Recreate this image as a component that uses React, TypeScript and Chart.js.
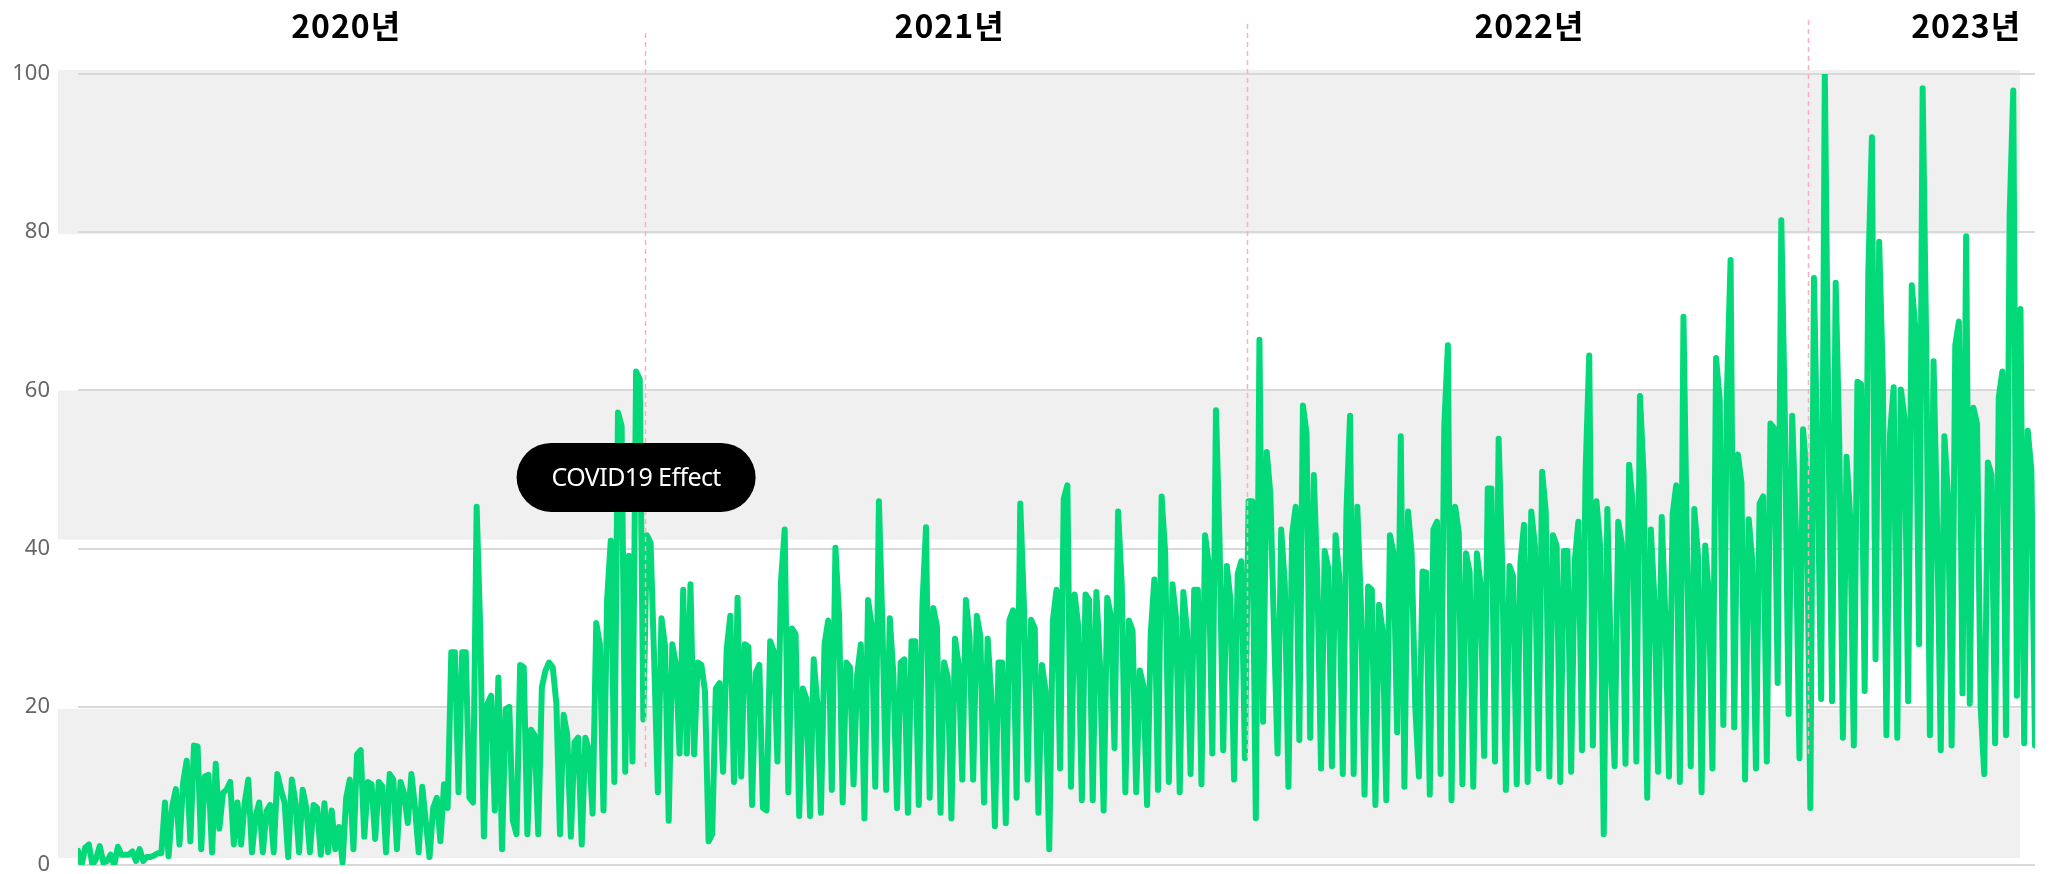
import React, { useEffect, useRef } from 'react';
import { Chart, registerables } from 'chart.js';

Chart.register(...registerables);

// ---- data (weekly rhythm) ----
const values2020 = [
  1.8, 0, 2.2, 2.6, 0, 0.8, 2.4, 0.3, 0.5, 1.3,
  0, 2.3, 1.3, 1.3, 1.3, 1.7, 0.5, 2.0, 0.5, 1,
  1, 1.2, 1.5, 1.5, 7.9, 1.1, 7.4, 9.6, 2.6, 10.4,
  13.2, 3, 15.1, 15, 2, 11.2, 11.4, 1.6, 12.8, 4.6,
  9.1, 9.5, 10.5, 2.6, 7.9, 2.6, 7.9, 10.8, 1.6, 6.2,
  7.9, 1.6, 6.8, 7.6, 1.6, 11.5, 9.5, 7.9, 1.0, 10.8,
  7.9, 1.6, 9.5, 7.2, 1.6, 7.6, 7.2, 1.3, 7.8, 1.6,
  6.9, 2.0, 4.8, 0.3, 8.5, 10.8, 2, 14, 14.5, 3.6,
  10.5, 10.2, 3.3, 10.5, 9.9, 1.6, 11.5, 10.8, 2, 10.5,
  9, 5.3, 11.5, 7.2, 1.6, 9.9, 5.3, 1, 7.2, 8.5,
  3.0, 10.2, 7.2, 26.9, 26.9, 9.2, 26.9, 26.9, 8.5, 7.9,
  45.3, 29.6, 3.6, 20.4, 21.4, 6.9, 23.7, 2, 19.7, 20,
  5.6, 3.9, 25.3, 25, 3.9, 17.1, 16.4, 3.9, 22.5, 24.6,
  25.6, 25, 20.4, 3.9, 19, 16.4, 3.6, 15.5, 16.1, 2.6,
  16.1, 14.5, 6.5, 30.6, 27.9, 6.9, 33.5, 41, 10.5, 57.2,
  55.5, 11.8, 39.1, 13.1, 62.4, 61.4, 18.4,
];

const values2021 = [
  41.7, 40.7, 25.6, 9.2, 31.2, 27.6, 5.6, 27.9, 25.3, 14.1,
  34.8, 14.1, 35.5, 14, 25.6, 25.3, 22, 3.0, 3.9, 22.3,
  23, 11.8, 27.3, 31.5, 10.5, 33.8, 11.2, 27.9, 27.6, 7.6,
  24.3, 25.3, 7.2, 6.9, 28.3, 27, 13.1, 36, 42.4,
  9.2, 29.9, 29.2, 6.2, 22.3, 21, 6.2, 26, 20.4, 6.6, 27.9, 30.9,
  9.5, 40.1, 31.5, 7.9, 25.6, 25, 10.2, 24, 27.9, 5.9, 33.5, 30.2,
  9.9, 46, 29.6, 9.5, 31.2, 24, 7.2, 25.6, 26, 6.6, 28.3, 28.3,
  7.6, 32.9, 42.7, 8.5, 32.5, 30.2, 6.6, 25.6, 23.7, 5.9, 28.6, 25.3,
  10.8, 33.5, 28.9, 10.8, 31.5, 28.9, 7.9, 28.6, 21.4, 4.9, 25.6, 25.6,
  5.3, 30.9, 32.2, 8.5, 45.7, 33, 10.8, 31, 29.9, 6.6, 25.3, 22,
  2, 30.9, 34.8, 12.2, 46.3, 48, 9.9, 34.2, 30.2, 8.2, 34.2, 33.5,
  8.2, 34.5, 25.3, 6.9, 33.8, 31.5, 14.8, 44.7, 35.5, 9.2, 30.9, 29.6,
  9.2, 24.6, 22.6, 7.6, 29.2, 36.1, 9.5, 46.6, 39.4, 10.5, 35.5, 31.2,
  9.2, 34.5, 29.6, 11.5, 34.8, 34.8, 10.2, 41.7, 38.1, 14.1, 57.5, 40.7,
  14.5, 37.8, 33.5, 10.8, 36.8, 38.4,
  13.5,
];

const values2022 = [
  46, 46,
  5.9, 66.4, 18.1, 52.2, 47, 30, 14.1, 42.4, 35.5, 9.9, 41.7, 45.3,
  15.8, 58.1, 54.5, 16.1, 49.3, 35.8, 12.2, 39.7, 37.5, 12.5, 41.7, 36.5,
  11.5, 44.7, 56.8, 11.5, 45.3, 32.9, 8.9, 35.2, 34.8, 7.6, 32.9, 29.6,
  8.2, 41.7, 39.4, 16.8, 54.2, 9.9, 44.7, 39.4, 20, 11.2, 37.1, 37,
  8.9, 42.4, 43.4, 11.5, 55.5, 65.7, 8.2, 45.3, 42, 10.2, 39.4, 37,
  9.9, 39.4, 35.5, 13.8, 47.6, 47.6, 13.1, 53.9, 37.8, 9.5, 37.8, 36.5,
  10.2, 38.1, 43, 10.5, 44.7, 40.4, 12.2, 49.7, 44.7, 11.2, 41.7, 40.4,
  10.5, 39.7, 39.7, 11.8, 38.4, 43.4, 14.5, 49.9, 64.4, 15.1, 46, 40.4,
  3.9, 45, 25, 12.5, 43.4, 40.7, 12.8, 50.6, 45.7, 13.1, 59.3, 49.3,
  8.5, 42.4, 33.5, 11.8, 44, 31.5, 11.2, 44.3, 48, 10.5, 69.3, 38.8,
  12.5, 45, 39.1, 9.2, 40.4, 34.2, 12.2, 64.1, 58.8, 17.7, 59.8, 76.5,
  17.4, 51.9, 48.3, 10.8, 43.7, 38.4, 12.2, 45.7, 46.6, 13.1, 55.8, 55.2,
  23, 81.5, 55.8, 19.1, 56.8, 42.7, 13.5, 55.1, 49.3,
];

const values2023 = [
  7.2, 74.2, 50, 21, 100, 55.8, 20.7, 73.6, 53.2, 16.1, 51.6, 44,
  15.1, 61.1, 60.8, 22, 74.9, 92, 26, 78.8, 61.8, 16.4, 54.5, 60.4,
  16.1, 60.1, 56.5, 20.7, 73.3, 67.7, 27.9, 98.2, 65, 16.4, 63.7, 42.7,
  14.5, 54.2, 46.6, 15.1, 65.7, 68.7, 21.7, 79.5, 20.4, 57.8, 55.8, 20,
  11.5, 50.9, 49.3, 15.4, 59.1, 62.4, 16.4, 82.1, 97.9, 21.4, 70.3, 15.4,
  54.9, 49.9, 15.1,
];

const yearLabels = ['2020년', '2021년', '2022년', '2023년'];
const yMin = 0;
const yMax = 100;
const yStep = 20;
const annotationText = 'COVID19 Effect';

export default function App() {
  const ref = useRef<HTMLCanvasElement | null>(null);

  useEffect(() => {
    document.body.style.margin = '0';
    const canvas = ref.current;
    if (!canvas) return;

    const years = [values2020, values2021, values2022, values2023];
    const points: { x: number; y: number }[] = [];
    const starts: number[] = [];
    let idx = 0;
    years.forEach((arr) => {
      starts.push(idx);
      arr.forEach((v) => points.push({ x: idx++, y: v }));
    });
    const lastIndex = idx - 1;
    const boundaries = starts.slice(1).map((s) => s - 0.5);

    // layout constants (index units for label centres, px for decoration)
    const labelCenters = [74, 240.5, 400.5, 521];
    const dashTops = [33, 24, 20];
    const dashBottoms = [12.4, 13.4, 14];
    const annotationAt = { x: 154, y: 49 };

    const decor = {
      id: 'decor',
      beforeDraw(chart: any) {
        const { ctx, chartArea: a, scales } = chart;
        const y = scales.y;
        ctx.save();
        ctx.fillStyle = '#f0f0f0';
        const l = a.left - 20;
        const r = a.right - 15;
        const bands = [
          [y.getPixelForValue(100) - 4, y.getPixelForValue(80) + 2],
          [y.getPixelForValue(60), y.getPixelForValue(40) - 9],
          [y.getPixelForValue(20) + 2, y.getPixelForValue(0) - 7],
        ];
        bands.forEach(([t, b]) => ctx.fillRect(l, t, r - l, b - t));
        ctx.restore();
      },
      afterDatasetsDraw(chart: any) {
        const { ctx, scales } = chart;
        const x = scales.x;
        const y = scales.y;
        ctx.save();
        ctx.strokeStyle = '#ffabc0';
        ctx.lineWidth = 1.5;
        ctx.setLineDash([5, 4]);
        boundaries.forEach((b, i) => {
          const px = Math.round(x.getPixelForValue(b)) + 0.5;
          ctx.beginPath();
          ctx.moveTo(px, dashTops[i]);
          ctx.lineTo(px, y.getPixelForValue(dashBottoms[i]));
          ctx.stroke();
        });
        ctx.restore();
      },
      afterDraw(chart: any) {
        const { ctx, scales } = chart;
        const x = scales.x;
        const y = scales.y;
        ctx.save();
        // year labels
        ctx.fillStyle = '#000';
        ctx.font = 'bold 32px "Noto Sans CJK KR", "Noto Sans", sans-serif';
        (ctx as any).letterSpacing = '1px';
        ctx.textAlign = 'center';
        ctx.textBaseline = 'alphabetic';
        yearLabels.forEach((t, i) => {
          ctx.fillText(t, x.getPixelForValue(labelCenters[i]), 38);
        });
        // annotation badge
        const cx = x.getPixelForValue(annotationAt.x);
        const cy = y.getPixelForValue(annotationAt.y);
        const w = 239;
        const h = 69;
        ctx.fillStyle = '#000';
        ctx.beginPath();
        (ctx as any).roundRect(cx - w / 2, cy - h / 2, w, h, h / 2);
        ctx.fill();
        ctx.fillStyle = '#fff';
        ctx.font = '25px "Noto Sans", sans-serif';
        (ctx as any).letterSpacing = '-0.6px';
        ctx.textAlign = 'center';
        ctx.textBaseline = 'middle';
        ctx.fillText(annotationText, cx, cy + 1);
        ctx.restore();
      },
    };

    const chart = new Chart(canvas, {
      type: 'line',
      data: {
        datasets: [
          {
            data: points,
            borderColor: '#04d97a',
            borderWidth: 6,
            pointRadius: 0,
            tension: 0,
            borderJoinStyle: 'round',
            borderCapStyle: 'round',
            fill: false,
            clip: 0,
          } as any,
        ],
      },
      options: {
        animation: false,
        responsive: false,
        maintainAspectRatio: false,
        layout: { padding: { top: 74, right: 17, bottom: 9, left: 0 } },
        plugins: { legend: { display: false }, tooltip: { enabled: false } },
        scales: {
          x: {
            type: 'linear',
            min: 0,
            max: lastIndex,
            display: false,
          },
          y: {
            min: yMin,
            max: yMax,
            afterFit: (scale: any) => {
              scale.width = 78;
              scale.paddingTop = 0;
              scale.paddingBottom = 0;
            },
            border: { display: false },
            grid: { color: '#d9d9d9', lineWidth: 2, drawTicks: false },
            ticks: {
              stepSize: yStep,
              padding: 28,
              color: '#666',
              font: { family: '"Noto Sans", sans-serif', size: 22, lineHeight: 1 },
            },
          },
        },
      },
      plugins: [decor],
    });

    return () => chart.destroy();
  }, []);

  return (
    <div style={{ width: 2052, height: 874 }}>
      <canvas ref={ref} width={2052} height={874} style={{ display: 'block' }} />
    </div>
  );
}
